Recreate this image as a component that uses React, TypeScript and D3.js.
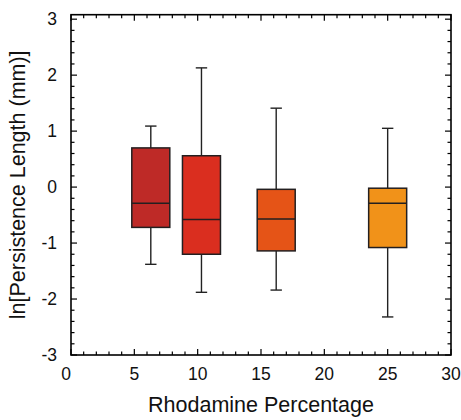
import React from "react";
import * as d3 from "d3";

const positions = [6.3, 10.3, 16.2, 25];
const whiskerHigh = [1.09, 2.13, 1.41, 1.05];
const q3 = [0.7, 0.56, -0.04, -0.02];
const medians = [-0.29, -0.58, -0.57, -0.29];
const q1 = [-0.72, -1.2, -1.14, -1.08];
const whiskerLow = [-1.38, -1.88, -1.84, -2.32];
const boxColors = ["#BE2A27", "#DA2E1F", "#E55417", "#F19219"];

const xMajor = [0, 5, 10, 15, 20, 25, 30];
const yMajor = [-3, -2, -1, 0, 1, 2, 3];

const W = 461;
const H = 420;
const FONT = "'Liberation Sans', Arial, Helvetica, sans-serif";

export default function App() {
  const x = d3.scaleLinear().domain([0, 30]).range([71, 451]);
  const y = d3.scaleLinear().domain([-3, 3.08]).range([355, 14.7]);
  const [x0, x1] = x.range();
  const [y0, y1] = y.range();
  const xMinor = d3.range(0, 31, 1);
  const yMinor = d3.range(-3, 3.001, 0.2).map((v) => Math.round(v * 10) / 10);
  const boxW = 3;
  const capW = 0.9;

  return (
    <svg
      width={W}
      height={H}
      style={{ position: "absolute", left: 0, top: 0, background: "#fff" }}
      fontFamily={FONT}
    >
      {/* boxes */}
      {positions.map((p, i) => {
        const cx = x(p);
        const left = x(p - boxW / 2);
        const right = x(p + boxW / 2);
        const capL = x(p - capW / 2);
        const capR = x(p + capW / 2);
        return (
          <g key={i}>
            <line x1={cx} x2={cx} y1={y(whiskerHigh[i])} y2={y(q3[i])} stroke="#222" strokeWidth={1.4} />
            <line x1={cx} x2={cx} y1={y(q1[i])} y2={y(whiskerLow[i])} stroke="#222" strokeWidth={1.4} />
            <line x1={capL} x2={capR} y1={y(whiskerHigh[i])} y2={y(whiskerHigh[i])} stroke="#222" strokeWidth={1.4} />
            <line x1={capL} x2={capR} y1={y(whiskerLow[i])} y2={y(whiskerLow[i])} stroke="#222" strokeWidth={1.4} />
            <rect
              x={left}
              y={y(q3[i])}
              width={right - left}
              height={y(q1[i]) - y(q3[i])}
              fill={boxColors[i]}
              stroke="#231F20"
              strokeWidth={1.5}
            />
            <line x1={left} x2={right} y1={y(medians[i])} y2={y(medians[i])} stroke="#231F20" strokeWidth={1.5} />
          </g>
        );
      })}

      {/* ticks */}
      {xMinor.map((v) => {
        const len = v % 5 === 0 ? 6 : 3.5;
        return (
          <g key={"xt" + v}>
            <line x1={x(v)} x2={x(v)} y1={y0} y2={y0 - len} stroke="#000" strokeWidth={1.2} />
            <line x1={x(v)} x2={x(v)} y1={y1} y2={y1 + len} stroke="#000" strokeWidth={1.2} />
          </g>
        );
      })}
      {yMinor.map((v) => {
        const major = Math.abs(v - Math.round(v)) < 1e-6;
        const len = major ? 6 : 3.5;
        return (
          <g key={"yt" + v}>
            <line x1={x0} x2={x0 + len} y1={y(v)} y2={y(v)} stroke="#000" strokeWidth={1.2} />
            <line x1={x1} x2={x1 - len} y1={y(v)} y2={y(v)} stroke="#000" strokeWidth={1.2} />
          </g>
        );
      })}

      {/* frame */}
      <rect x={x0} y={y1} width={x1 - x0} height={y0 - y1} fill="none" stroke="#000" strokeWidth={1.6} />

      {/* tick labels */}
      {xMajor.map((v) => (
        <text key={"xl" + v} x={x(v) + (v === 0 ? -5 : 0)} y={380} textAnchor="middle" fontSize={17.5} fill="#111">
          {v}
        </text>
      ))}
      {yMajor.map((v) => (
        <text key={"yl" + v} x={57} y={y(v) + 6} textAnchor="end" fontSize={17.5} fill="#111">
          {v}
        </text>
      ))}

      {/* axis titles */}
      <text x={(x0 + x1) / 2} y={412} textAnchor="middle" fontSize={21.5} fill="#111">
        Rhodamine Percentage
      </text>
      <text
        transform={`translate(25, ${(y0 + y1) / 2}) rotate(-90)`}
        textAnchor="middle"
        fontSize={21.5}
        fill="#111"
      >
        ln[Persistence Length (mm)]
      </text>
    </svg>
  );
}
